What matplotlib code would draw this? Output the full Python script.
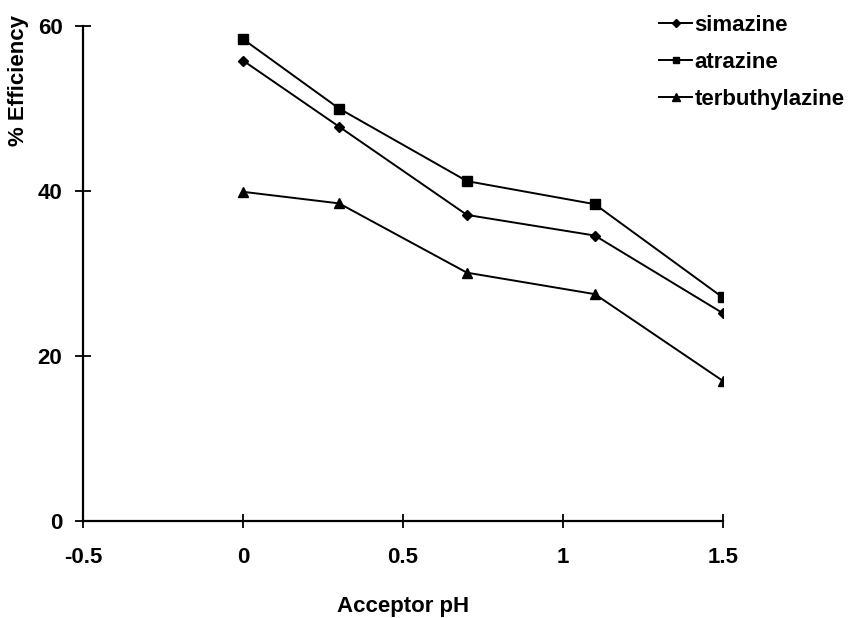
import matplotlib
matplotlib.use("Agg")
import matplotlib.pyplot as plt

ph = [0, 0.3, 0.7, 1.1, 1.5]
simazine = [55.8, 47.8, 37.1, 34.6, 25.2]
atrazine = [58.4, 50.0, 41.2, 38.4, 27.1]
terbuthylazine = [39.9, 38.5, 30.1, 27.5, 17.0]
series_names = ["simazine", "atrazine", "terbuthylazine"]
xticks = [-0.5, 0, 0.5, 1, 1.5]
xticklabels = ["-0.5", "0", "0.5", "1", "1.5"]
yticks = [0, 20, 40, 60]

plt.rcParams['font.family'] = ['Liberation Sans', 'DejaVu Sans']
plt.rcParams['font.weight'] = 'bold'

fig = plt.figure(figsize=(8.61, 6.18), dpi=100)
ax = fig.add_axes([83.3/861, 1-521/618, (722.7-83.3)/861, (521-26)/618])

lw = 1.4
ax.plot(ph, simazine, color='black', lw=lw, marker='D', ms=5.5, label=series_names[0])
ax.plot(ph, atrazine, color='black', lw=lw, marker='s', ms=6.5, label=series_names[1])
ax.plot(ph, terbuthylazine, color='black', lw=lw, marker='^', ms=7, label=series_names[2])

ax.set_xlim(-0.5, 1.5)
ax.set_ylim(0, 60)
ax.set_xticks(xticks)
ax.set_xticklabels(xticklabels)
ax.set_yticks(yticks)
for s in ['top', 'right']:
    ax.spines[s].set_visible(False)
for s in ['left', 'bottom']:
    ax.spines[s].set_linewidth(1.6)
ax.tick_params(axis='both', direction='inout', width=1.3, labelsize=16, colors='black')
ax.tick_params(axis='y', length=12, pad=9)
ax.tick_params(axis='x', length=9.5, pad=14)
for lab in ax.get_xticklabels() + ax.get_yticklabels():
    lab.set_fontweight('bold')

ax.set_xlabel("Acceptor pH", fontsize=16, fontweight='bold', labelpad=20)
fig.text(19/861, 1-80/618, "% Efficiency", rotation=90, ha='center', va='center',
         fontsize=16, fontweight='bold')

leg = fig.legend(loc='upper left', bbox_to_anchor=(639/861, 1+5/618), frameon=False,
                 fontsize=16, handlelength=1.5, handletextpad=0.1, labelspacing=0.72,
                 markerscale=0.75)
for t in leg.get_texts():
    t.set_fontweight('bold')

fig.savefig("out.png", dpi=100)
